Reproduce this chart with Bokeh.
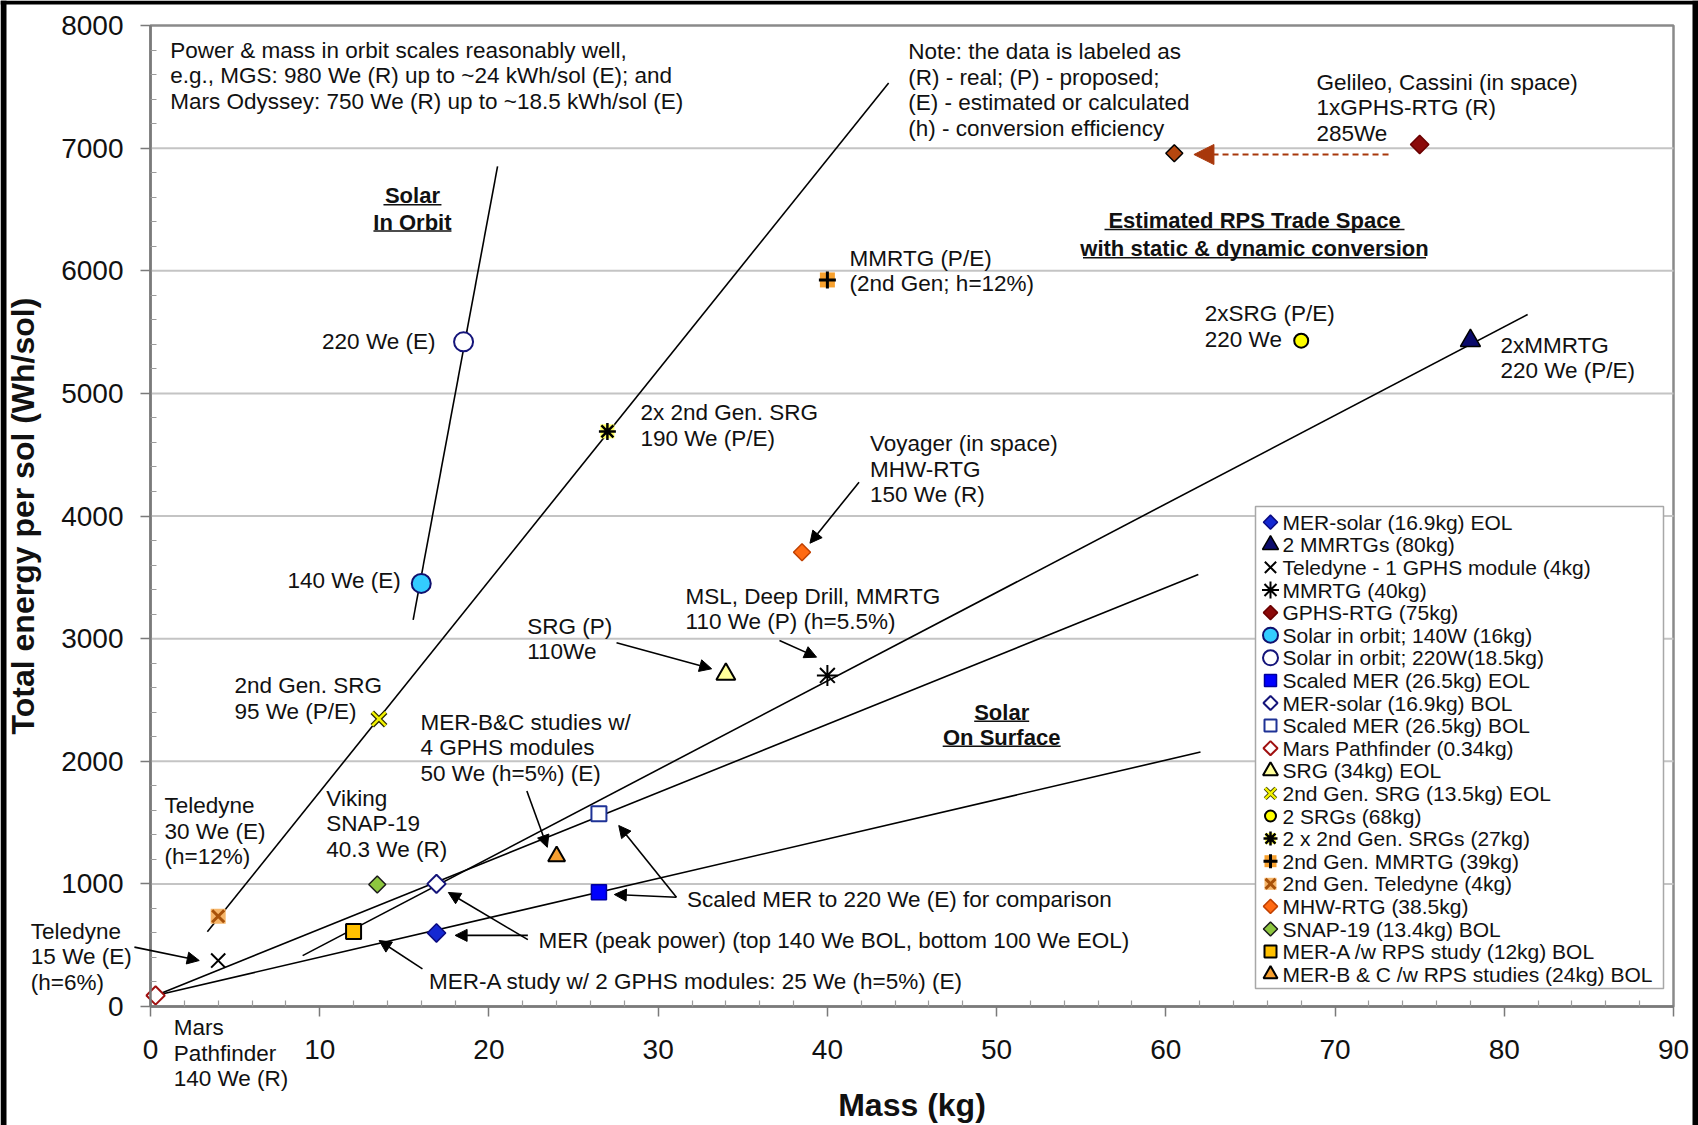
import math
from bokeh.plotting import figure
from bokeh.models import (Range1d, Label, Arrow, NormalHead, FixedTicker)
from bokeh.core.properties import value
from bokeh.embed import file_html
from bokeh.resources import INLINE

FONT = "Liberation Sans"

# ---------------- data ----------------
x_tick_values = [0, 10, 20, 30, 40, 50, 60, 70, 80, 90]
y_tick_values = [0, 1000, 2000, 3000, 4000, 5000, 6000, 7000, 8000]

legend_labels = [
    "MER-solar (16.9kg) EOL", "2 MMRTGs (80kg)", "Teledyne - 1 GPHS module (4kg)",
    "MMRTG (40kg)", "GPHS-RTG (75kg)", "Solar in orbit; 140W (16kg)",
    "Solar in orbit; 220W(18.5kg)", "Scaled MER (26.5kg) EOL", "MER-solar (16.9kg) BOL",
    "Scaled MER (26.5kg) BOL", "Mars Pathfinder (0.34kg)", "SRG (34kg) EOL",
    "2nd Gen. SRG (13.5kg) EOL", "2 SRGs (68kg)", "2 x 2nd Gen. SRGs (27kg)",
    "2nd Gen. MMRTG (39kg)", "2nd Gen. Teledyne (4kg)", "MHW-RTG (38.5kg)",
    "SNAP-19 (13.4kg) BOL", "MER-A /w RPS study (12kg) BOL",
    "MER-B & C /w RPS studies (24kg) BOL",
]
point_mass = [16.9, 78.0, 4.0, 40.0, 75.0, 16.0, 18.5, 26.5, 16.9, 26.5, 0.3,
              34.0, 13.5, 68.0, 27.0, 40.0, 4.0, 38.5, 13.4, 12.0, 24.0]
point_energy = [600, 5430, 375, 2700, 7030, 3450, 5420, 932, 1000, 1571, 90,
                2710, 2345, 5430, 4690, 5925, 736, 3705, 995, 611, 1225]

# GPHS-RTG moved point (not in legend)
extra_mass = [60.5]
extra_energy = [6958]

# trend lines
trend_x0 = [15.52, 3.36, 8.99, 0.3, 0.3]
trend_y0 = [3153, 609, 415, 90, 90]
trend_x1 = [20.51, 43.62, 81.38, 61.92, 62.05]
trend_y1 = [6852, 7532, 5643, 3523, 2075]

# annotation arrows
arrow_x0 = [-0.95, 16.07, 22.3, 22.3, 31.08, 31.08, 22.24, 27.54, 37.17, 41.87]
arrow_y0 = [484, 307, 545, 580, 891, 891, 1757, 2966, 2985, 4276]
arrow_x1 = [2.88, 13.51, 17.6, 18.0, 27.67, 27.41, 23.45, 33.16, 39.36, 38.97]
arrow_y1 = [375, 538, 930, 580, 1476, 913, 1298, 2754, 2849, 3778]

dash_x0 = [73.16]
dash_y0 = [6948]
dash_x1 = [61.66]
dash_y1 = [6948]

# text notes (left aligned, vertically centred blocks)
note_texts = [
    "Power & mass in orbit scales reasonably well,\ne.g., MGS: 980 We (R) up to ~24 kWh/sol (E); and\nMars Odyssey: 750 We (R) up to ~18.5 kWh/sol (E)",
    "Note: the data is labeled as\n(R) - real; (P) - proposed;\n(E) - estimated or calculated\n(h) - conversion efficiency",
    "Gelileo, Cassini (in space)\n1xGPHS-RTG (R)\n285We",
    "MMRTG (P/E)\n(2nd Gen; h=12%)",
    "2xSRG (P/E)\n220 We",
    "2xMMRTG\n220 We (P/E)",
    "220 We (E)",
    "2x 2nd Gen. SRG\n190 We (P/E)",
    "Voyager (in space)\nMHW-RTG\n150 We (R)",
    "140 We (E)",
    "MSL, Deep Drill, MMRTG\n110 We (P) (h=5.5%)",
    "SRG (P)\n110We",
    "2nd Gen. SRG\n95 We (P/E)",
    "MER-B&C studies w/\n4 GPHS modules\n50 We (h=5%) (E)",
    "Teledyne\n30 We (E)\n(h=12%)",
    "Viking\nSNAP-19\n40.3 We (R)",
    "Scaled MER to 220 We (E) for comparison",
    "MER (peak power) (top 140 We BOL, bottom 100 We EOL)",
    "MER-A study w/ 2 GPHS modules: 25 We (h=5%) (E)",
    "Teledyne\n15 We (E)\n(h=6%)",
    "Mars\nPathfinder\n140 We (R)",
]
note_x = [1.17, 44.78, 68.9, 41.31, 62.30, 79.77, 10.14, 28.95, 42.52, 8.09,
          31.62, 22.26, 4.96, 15.96, 0.83, 10.39, 31.71, 22.93, 16.46, -7.07, 1.37]
note_y = [7590, 7473, 7328, 6000, 5545, 5290, 5422, 4740, 4380, 3470,
          3240, 2998, 2512, 2110, 1430, 1492, 874, 535, 205, 405, -380]

heading_texts = ["Solar", "In Orbit", "Estimated RPS Trade Space",
                 "with static & dynamic conversion", "Solar", "On Surface"]
heading_x = [15.48, 15.48, 65.24, 65.24, 50.3, 50.3]
heading_y = [6612, 6397, 6410, 6180, 2400, 2196]
heading_w = [58, 78, 300, 343, 55, 118]   # underline widths, px

# ---------------- styling ----------------
D = 45  # rotated square -> diamond
styles = [
    [("square", 13, "#1428d2", "#0a0a80", 1.5, D)],
    [("triangle", 20, "#0b0b6b", "#000000", 1.5, 0)],
    [("x", 20, None, "#000000", 2, 0)],
    [("asterisk", 21, None, "#000000", 2, 0)],
    [("square", 13, "#8b0a0a", "#6a0000", 1.5, D)],
    [("circle", 19, "#33ccff", "#10106e", 2, 0)],
    [("circle", 19, "#ffffff", "#14147a", 2, 0)],
    [("square", 15, "#0000ff", "#0000a0", 1.5, 0)],
    [("square", 13, "#ffffff", "#14147a", 2, D)],
    [("square", 15, "#ffffff", "#1e3296", 2, 0)],
    [("square", 13, "#ffffff", "#a01010", 2, D)],
    [("triangle", 19, "#ffff99", "#000000", 2, 0)],
    [("x", 19, None, "#2a2a00", 5, 0), ("x", 19, None, "#f2f200", 2.5, 0)],
    [("circle", 14, "#ffff00", "#000000", 2, 0)],
    [("square", 14, "#ffff60", None, 0, 0), ("asterisk", 17, None, "#000000", 2.5, 0)],
    [("square", 15, "#f7a12f", None, 0, 0), ("cross", 17, None, "#000000", 3, 0)],
    [("square", 15, "#f6b66a", None, 0, 0), ("x", 17, None, "#a8520a", 3, 0)],
    [("square", 12, "#ff6a13", "#c04000", 1.5, D)],
    [("square", 12, "#8dc63f", "#1a1a1a", 1.5, D)],
    [("square", 15, "#ffc000", "#000000", 2, 0)],
    [("triangle", 17, "#f7a030", "#000000", 2, 0)],
]

# ---------------- layout (pixels) ----------------
W, H = 1698, 1125
FL, FR, FT, FB = 150, 1673, 25, 1006          # plot box on the canvas
XMAX, YMAX = x_tick_values[-1], y_tick_values[-1]
KPP = XMAX / (FR - FL)
EPP = YMAX / (FB - FT)

p = figure(width=W, height=H,
           x_range=Range1d(-FL * KPP, XMAX + (W - FR) * KPP),
           y_range=Range1d(-(H - FB) * EPP, YMAX + FT * EPP),
           output_backend="svg", toolbar_location=None, title=None,
           min_border=0, min_border_left=0, min_border_right=0,
           min_border_top=0, min_border_bottom=0)
p.extra_x_ranges = {"px": Range1d(0, W)}
p.extra_y_ranges = {"px": Range1d(H, 0)}
p.background_fill_color = "white"
p.border_fill_color = "white"
p.outline_line_color = None
p.xgrid.grid_line_color = None
p.ygrid.grid_line_color = None

x_minor = [v for v in range(0, XMAX + 1, 2) if v % 10]
y_minor = [v for v in range(0, YMAX + 1, 200) if v % 1000]
p.xaxis.ticker = FixedTicker(ticks=x_tick_values, minor_ticks=x_minor)
p.yaxis.ticker = FixedTicker(ticks=y_tick_values, minor_ticks=y_minor)
p.xaxis.fixed_location = 0
p.yaxis.fixed_location = 0
p.xaxis.bounds = (0, XMAX)
p.yaxis.bounds = (0, YMAX)

for ax in (p.xaxis[0], p.yaxis[0]):
    ax.axis_line_color = "#7a7a7a"
    ax.axis_line_width = 2.5
    ax.major_tick_line_color = "#7a7a7a"
    ax.minor_tick_line_color = "#9a9a9a"
    ax.major_tick_line_width = 1.5
    ax.minor_tick_line_width = 1.2
    ax.major_tick_out = 10
    ax.major_tick_in = 0
    ax.minor_tick_in = 6
    ax.minor_tick_out = 0
    ax.major_label_text_font = FONT
    ax.major_label_text_font_size = "28px"
    ax.major_label_text_color = "#111111"
    ax.axis_label_text_font = FONT
    ax.axis_label_text_font_style = "bold"
    ax.axis_label_text_font_size = "32px"
    ax.axis_label_text_color = "#111111"
    ax.major_label_standoff = 17

p.xaxis.axis_label = "Mass (kg)"
p.yaxis.axis_label = "Total energy per sol (Wh/sol)"
p.xaxis.major_label_standoff = 23
p.xaxis.axis_label_standoff = 25
p.yaxis.axis_label_standoff = 17

# plot box outline and horizontal grid lines
p.quad(left=[0], right=[XMAX], bottom=[0], top=[YMAX], fill_color=None,
       line_color="#8a8a8a", line_width=2.5)
grid_y = y_tick_values[1:-1]
p.segment(x0=[0] * len(grid_y), y0=grid_y, x1=[XMAX] * len(grid_y), y1=grid_y,
          line_color="#c4c4c4", line_width=2)

# trend lines
p.segment(x0=trend_x0, y0=trend_y0, x1=trend_x1, y1=trend_y1,
          line_color="black", line_width=1.6)

# heading underlines
ul_x0 = [hx - w / 2 * KPP for hx, w in zip(heading_x, heading_w)]
ul_x1 = [hx + w / 2 * KPP for hx, w in zip(heading_x, heading_w)]
ul_y = [hy - 9 * EPP for hy in heading_y]
p.segment(x0=ul_x0, y0=ul_y, x1=ul_x1, y1=ul_y, line_color="#111111", line_width=1.6)

# points
for i in range(len(legend_labels)):
    for (mk, sz, fc, lc, lw, ang) in styles[i]:
        p.scatter(x=[point_mass[i]], y=[point_energy[i]], marker=mk, size=sz,
                  fill_color=fc, line_color=lc, line_width=lw,
                  angle=math.radians(ang))

p.scatter(x=extra_mass, y=extra_energy, marker="square", size=12,
          fill_color="#b5470f", line_color="#000000", line_width=1.5,
          angle=math.radians(45))

# arrows
for x0, y0, x1, y1 in zip(arrow_x0, arrow_y0, arrow_x1, arrow_y1):
    p.add_layout(Arrow(x_start=x0, y_start=y0, x_end=x1, y_end=y1,
                       line_color="black", line_width=1.6,
                       end=NormalHead(size=12, fill_color="black",
                                      line_color="black", line_width=1)))
for x0, y0, x1, y1 in zip(dash_x0, dash_y0, dash_x1, dash_y1):
    p.add_layout(Arrow(x_start=x0, y_start=y0, x_end=x1, y_end=y1,
                       line_color="#a8380c", line_width=2.2, line_dash="6 4",
                       end=NormalHead(size=20, fill_color="#a8380c",
                                      line_color="#a8380c", line_width=1)))

# notes
for t, x, y in zip(note_texts, note_x, note_y):
    p.add_layout(Label(x=x, y=y, text=t, text_font=FONT, text_font_size="22.5px",
                       text_color="#111111", text_align="left",
                       text_baseline="middle", text_line_height=1.02))
for t, x, y in zip(heading_texts, heading_x, heading_y):
    p.add_layout(Label(x=x, y=y, text=t, text_font=FONT, text_font_size="22px",
                       text_font_style="bold", text_color="#111111",
                       text_align="center", text_baseline="middle"))

# ---------------- legend (drawn in canvas pixels) ----------------
LEG_L, LEG_R, LEG_T, LEG_B = 1255, 1663, 506, 988
ROW0, STEP = 521.7, 22.6
MARK_X, TEXT_X = 1270, 1282
LEG_SCALE = 0.8
p.quad(left=[LEG_L], right=[LEG_R], top=[LEG_T], bottom=[LEG_B],
       x_range_name="px", y_range_name="px", fill_color="white",
       line_color="#a8a8a8", line_width=1.5)
row_y = [ROW0 + STEP * i for i in range(len(legend_labels))]
for i in range(len(legend_labels)):
    for (mk, sz, fc, lc, lw, ang) in styles[i]:
        p.scatter(x=[MARK_X], y=[row_y[i]], x_range_name="px", y_range_name="px",
                  marker=mk, size=round(sz * LEG_SCALE), fill_color=fc,
                  line_color=lc, line_width=min(lw, 4), angle=math.radians(ang))
p.text(x=[TEXT_X] * len(legend_labels), y=row_y, text=legend_labels,
       x_range_name="px", y_range_name="px", text_font=value(FONT),
       text_font_size=value("21px"), text_color="#111111",
       text_align="left", text_baseline="middle")

# dark frame edges of the original picture
p.quad(left=[0, 0, W - 6], right=[W, 6, W], top=[0, 0, 0], bottom=[4, H, H],
       x_range_name="px", y_range_name="px", fill_color="black", line_color=None)

open("out.html", "w").write(file_html(p, INLINE))
